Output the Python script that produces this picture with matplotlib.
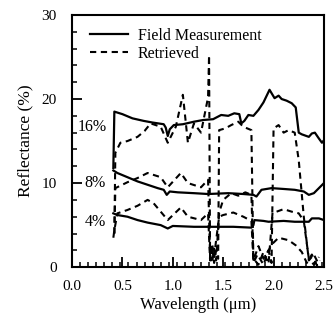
import numpy as np
import matplotlib.pyplot as plt
from matplotlib.ticker import MultipleLocator

plt.rcParams['font.family'] = ['Liberation Serif', 'DejaVu Serif']

# field measurements (wavelength in um, reflectance in %)
field16_wl = [0.41, 0.42, 0.5, 0.6, 0.71, 0.8, 0.91, 0.93, 0.95, 0.97, 1.01, 1.1, 1.21, 1.3,
              1.4, 1.48, 1.55, 1.61, 1.66, 1.68, 1.71, 1.75, 1.8, 1.85, 1.9, 1.96, 1.99, 2.01,
              2.05, 2.08, 2.13, 2.18, 2.22, 2.25, 2.28, 2.35, 2.38, 2.41, 2.45, 2.48, 2.5]
field16 = [11.8, 18.5, 18.2, 17.7, 17.4, 17.2, 17.0, 16.6, 15.6, 16.4, 16.9, 17.0, 17.3, 17.5,
           17.6, 18.1, 18.0, 18.3, 18.2, 17.1, 17.4, 18.1, 18.0, 18.7, 19.6, 21.1, 20.5, 20.1,
           20.4, 20.0, 19.8, 19.5, 19.0, 16.0, 15.8, 15.5, 15.9, 16.0, 15.3, 14.8, 15.1]

field8_wl = [0.41, 0.45, 0.55, 0.65, 0.75, 0.85, 0.91, 0.94, 0.97, 1.05, 1.21, 1.35, 1.55,
             1.7, 1.8, 1.83, 1.88, 1.98, 2.1, 2.21, 2.3, 2.35, 2.4, 2.45, 2.5]
field8 = [11.5, 11.2, 10.7, 10.2, 9.8, 9.4, 9.2, 8.6, 9.0, 8.9, 8.8, 8.7, 8.8,
          8.7, 8.6, 8.4, 9.2, 9.4, 9.3, 9.2, 9.0, 8.6, 8.8, 9.4, 10.0]

field4_wl = [0.41, 0.45, 0.55, 0.65, 0.75, 0.88, 0.95, 1.0, 1.21, 1.4, 1.6, 1.78, 1.8, 1.81,
             1.9, 1.95, 2.1, 2.21, 2.35, 2.38, 2.45, 2.5]
field4 = [6.4, 6.2, 6.0, 5.6, 5.3, 5.0, 4.6, 4.9, 4.8, 4.8, 4.8, 4.7, 5.0, 5.6,
          5.5, 5.4, 5.5, 5.4, 5.4, 5.8, 5.8, 5.6]

# retrieved reflectance
ret16_wl = [0.42, 0.43, 0.48, 0.55, 0.65, 0.72, 0.78, 0.88, 0.95, 1.03, 1.1, 1.15, 1.21, 1.28,
            1.35, 1.36, 1.37, 1.39, 1.41, 1.43, 1.45, 1.46, 1.52, 1.58, 1.65, 1.7, 1.78, 1.8,
            1.84, 1.9, 1.95, 1.98, 2.0, 2.05, 2.1, 2.15, 2.21, 2.25, 2.3, 2.35, 2.4, 2.45]
ret16 = [4.0, 13.6, 14.8, 15.0, 15.5, 16.2, 17.1, 16.7, 14.8, 16.7, 20.5, 14.8, 17.1, 16.0,
         20.2, 25.2, 1.0, 2.5, 0.5, 2.0, 1.0, 16.3, 16.5, 16.9, 17.3, 16.7, 16.3, 0.5,
         1.5, 0.3, 2.0, 0.5, 16.5, 16.9, 16.0, 16.3, 16.0, 12.7, 6.0, 0.8, 1.5, 0.3]

ret8_wl = [0.42, 0.43, 0.55, 0.65, 0.75, 0.88, 0.95, 1.08, 1.15, 1.28, 1.35, 1.37, 1.39,
           1.41, 1.43, 1.46, 1.5, 1.58, 1.65, 1.72, 1.78, 1.8, 1.85, 1.9, 1.95, 1.99, 2.03,
           2.1, 2.18, 2.25, 2.3, 2.35, 2.4, 2.45]
ret8 = [4.0, 9.4, 10.1, 10.6, 11.2, 10.7, 9.5, 11.2, 10.0, 9.5, 10.4, 1.5, 0.5,
        2.2, 0.8, 6.5, 8.0, 8.8, 8.5, 8.9, 8.6, 1.0, 0.3, 1.8, 0.4, 6.5, 6.6,
        6.9, 6.6, 6.4, 5.5, 1.0, 0.3, 1.2]

ret4_wl = [0.41, 0.42, 0.45, 0.55, 0.65, 0.75, 0.81, 0.95, 1.08, 1.15, 1.28, 1.35, 1.37,
           1.39, 1.41, 1.43, 1.46, 1.5, 1.6, 1.7, 1.78, 1.8, 1.85, 1.9, 1.95, 1.99, 2.05,
           2.15, 2.22, 2.28, 2.33, 2.38, 2.43, 2.46]
ret4 = [3.5, 4.4, 6.4, 6.8, 7.3, 8.0, 7.6, 5.6, 7.1, 6.0, 5.6, 6.4, 0.8,
        2.8, 1.2, 3.2, 6.0, 6.2, 6.5, 6.0, 5.5, 0.8, 2.5, 1.0, 2.0, 2.8, 3.5,
        3.2, 2.6, 1.8, 0.5, 1.5, 0.2, 0.8]

levels = ['16%', '8%', '4%']
level_pos = [(0.2, 16.7), (0.23, 10.0), (0.23, 5.4)]


def main():
    fig = plt.figure(figsize=(3.35, 3.25), dpi=100)
    ax = fig.add_axes([0.215, 0.178, 0.752, 0.776])

    ax.plot(field16_wl, field16, color='black', lw=1.6, label='Field Measurement')
    ax.plot(field8_wl, field8, color='black', lw=1.6)
    ax.plot(field4_wl, field4, color='black', lw=1.6)
    ax.plot(ret16_wl, ret16, color='black', lw=1.5, ls=(0, (3, 2.2)), label='Retrieved')
    ax.plot(ret8_wl, ret8, color='black', lw=1.5, ls=(0, (3, 2.2)))
    ax.plot(ret4_wl, ret4, color='black', lw=1.5, ls=(0, (3, 2.2)))

    for lab, (x, y) in zip(levels, level_pos):
        ax.text(x, y, lab, ha='center', va='center', fontsize=11.5)

    ax.set_xlim(0, 2.5)
    ax.set_ylim(0, 30)
    ax.xaxis.set_major_locator(MultipleLocator(0.5))
    ax.xaxis.set_minor_locator(MultipleLocator(0.08))
    ax.yaxis.set_major_locator(MultipleLocator(10))
    ax.yaxis.set_minor_locator(MultipleLocator(2))
    ax.xaxis.set_major_formatter(plt.FormatStrFormatter('%.1f'))
    ax.tick_params(which='both', direction='in', top=False, right=False, labelsize=11)
    ax.tick_params(which='major', length=7, width=1.3)
    ax.tick_params(which='minor', length=3.5, width=1.1)
    ax.tick_params(axis='x', pad=9)
    ax.tick_params(axis='y', pad=11)
    for s in ax.spines.values():
        s.set_linewidth(1.5)

    ax.set_xlabel('Wavelength (\u03bcm)', fontsize=12, labelpad=3)
    ax.set_ylabel('Reflectance (%)', fontsize=12.5, labelpad=6)

    ax.legend(loc='upper left', bbox_to_anchor=(0.07, 0.95), frameon=False, fontsize=11.5,
              handlelength=2.4, borderaxespad=0, borderpad=0, labelspacing=0.15,
              handletextpad=0.6)

    fig.savefig('out.png', dpi=100)


if __name__ == '__main__':
    main()
